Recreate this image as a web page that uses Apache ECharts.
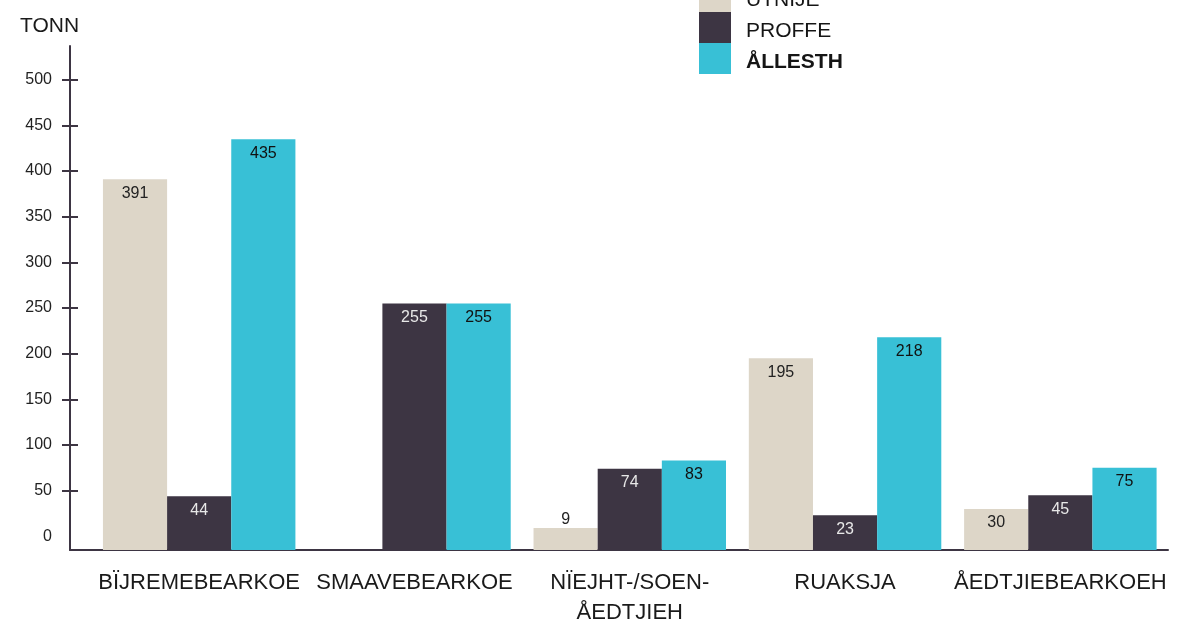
<!DOCTYPE html>
<html>
<head>
<meta charset="utf-8">
<script src="https://cdn.jsdelivr.net/npm/echarts@6/dist/echarts.min.js"></script>
<style>
html,body{margin:0;padding:0;background:#fff;}
#c{width:1183px;height:624px;}
</style>
</head>
<body>
<div id="c"></div>
<script>
const categories = ['BÏJREMEBEARKOE', 'SMAAVEBEARKOE', 'NÏEJHT-/SOEN-\nÅEDTJIEH', 'RUAKSJA', 'ÅEDTJIEBEARKOEH'];
const seriesNames = ['UTNIJE', 'PROFFE', 'ÅLLESTH'];
const utnije = [391, null, 9, 195, 30];
const proffe = [44, 255, 74, 23, 45];
const allesth = [435, 255, 83, 218, 75];
const yTickLabels = [0, 50, 100, 150, 200, 250, 300, 350, 400, 450, 500];
const yTickMarks = [50, 100, 150, 200, 250, 300, 350, 400, 450, 500];

const colors = ['#ddd6c8', '#3d3543', '#38c0d6'];
const labelColors = ['#222222', '#e8e8e8', '#111111'];
const Y_MIN = -15, Y_MAX = 537;
const BAR_W = 0.298;
const offsets = [-BAR_W, 0, BAR_W];
const FONT = '"Liberation Sans", Arial, Helvetica, sans-serif';

function renderItem(params, api) {
  const si = params.seriesIndex;
  const x = api.value(0), v = api.value(1);
  const top = api.coord([x + offsets[si], v]);
  const bot = api.coord([x + offsets[si], Y_MIN]);
  const w = api.size([BAR_W, 0])[0];
  const h = bot[1] - top[1];
  const small = h < 30;
  return {
    type: 'group',
    children: [
      { type: 'rect', shape: { x: top[0] - w / 2, y: top[1], width: w, height: h },
        style: { fill: colors[si] } },
      { type: 'text', style: {
          text: String(v), x: top[0], y: small ? top[1] - 8 : top[1] + 14,
          align: 'center', verticalAlign: 'middle',
          fill: labelColors[si], fontSize: 16, fontFamily: FONT } }
    ]
  };
}

function mk(name, vals, i) {
  return {
    type: 'custom', name: name, renderItem: renderItem,
    itemStyle: { color: colors[i] },
    encode: { x: 0, y: 1 },
    data: vals.map((v, k) => [k, v]).filter(d => d[1] !== null)
  };
}

const chart = echarts.init(document.getElementById('c'), null, { renderer: 'canvas' });
chart.setOption({
  animation: false,
  color: colors,
  textStyle: { fontFamily: FONT },
  title: {
    text: 'TONN', left: 20, top: 16, padding: 0,
    textStyle: { fontSize: 21, fontWeight: 'normal', color: '#1a1a1a', fontFamily: FONT }
  },
  legend: {
    orient: 'vertical', left: 699, top: -19, padding: 0,
    itemWidth: 32, itemHeight: 31, itemGap: 0, icon: 'rect',
    selectedMode: false,
    data: seriesNames,
    formatter: n => n === 'ÅLLESTH' ? '{b|' + n + '}' : n,
    textStyle: {
      fontSize: 21, color: '#151515', fontFamily: FONT, padding: [8, 0, 0, 10],
      rich: { b: { fontSize: 21, fontWeight: 'bold', color: '#151515', fontFamily: FONT } }
    }
  },
  grid: { left: 70, right: 15, top: 46, bottom: 74, containLabel: false, outerBoundsMode: 'none' },
  xAxis: {
    type: 'value', min: -0.6, max: 4.5,
    axisLine: { show: true, onZero: false, lineStyle: { color: '#3d3543', width: 2 } },
    axisTick: { show: false },
    splitLine: { show: false },
    axisLabel: {
      customValues: [0, 1, 2, 3, 4],
      formatter: v => categories[Math.round(v)],
      fontSize: 22, lineHeight: 30, margin: 18, color: '#1a1a1a', fontFamily: FONT,
      hideOverlap: false, showMinLabel: true, showMaxLabel: true
    }
  },
  yAxis: [{
    type: 'value', min: Y_MIN, max: Y_MAX, position: 'left',
    axisLine: { show: true, onZero: false, lineStyle: { color: '#3d3543', width: 2 } },
    axisTick: { show: true, customValues: yTickMarks, length: 8, lineStyle: { color: '#3d3543', width: 2 } },
    splitLine: { show: false },
    axisLabel: { customValues: yTickLabels, fontSize: 16, margin: 18, color: '#222222', fontFamily: FONT }
  }, {
    type: 'value', min: Y_MIN, max: Y_MAX, position: 'left',
    axisLine: { show: false, onZero: false },
    axisTick: { show: true, inside: true, customValues: yTickMarks, length: 8, lineStyle: { color: '#3d3543', width: 2 } },
    splitLine: { show: false },
    axisLabel: { show: false }
  }],
  series: [mk(seriesNames[0], utnije, 0), mk(seriesNames[1], proffe, 1), mk(seriesNames[2], allesth, 2)]
});
</script>
</body>
</html>
